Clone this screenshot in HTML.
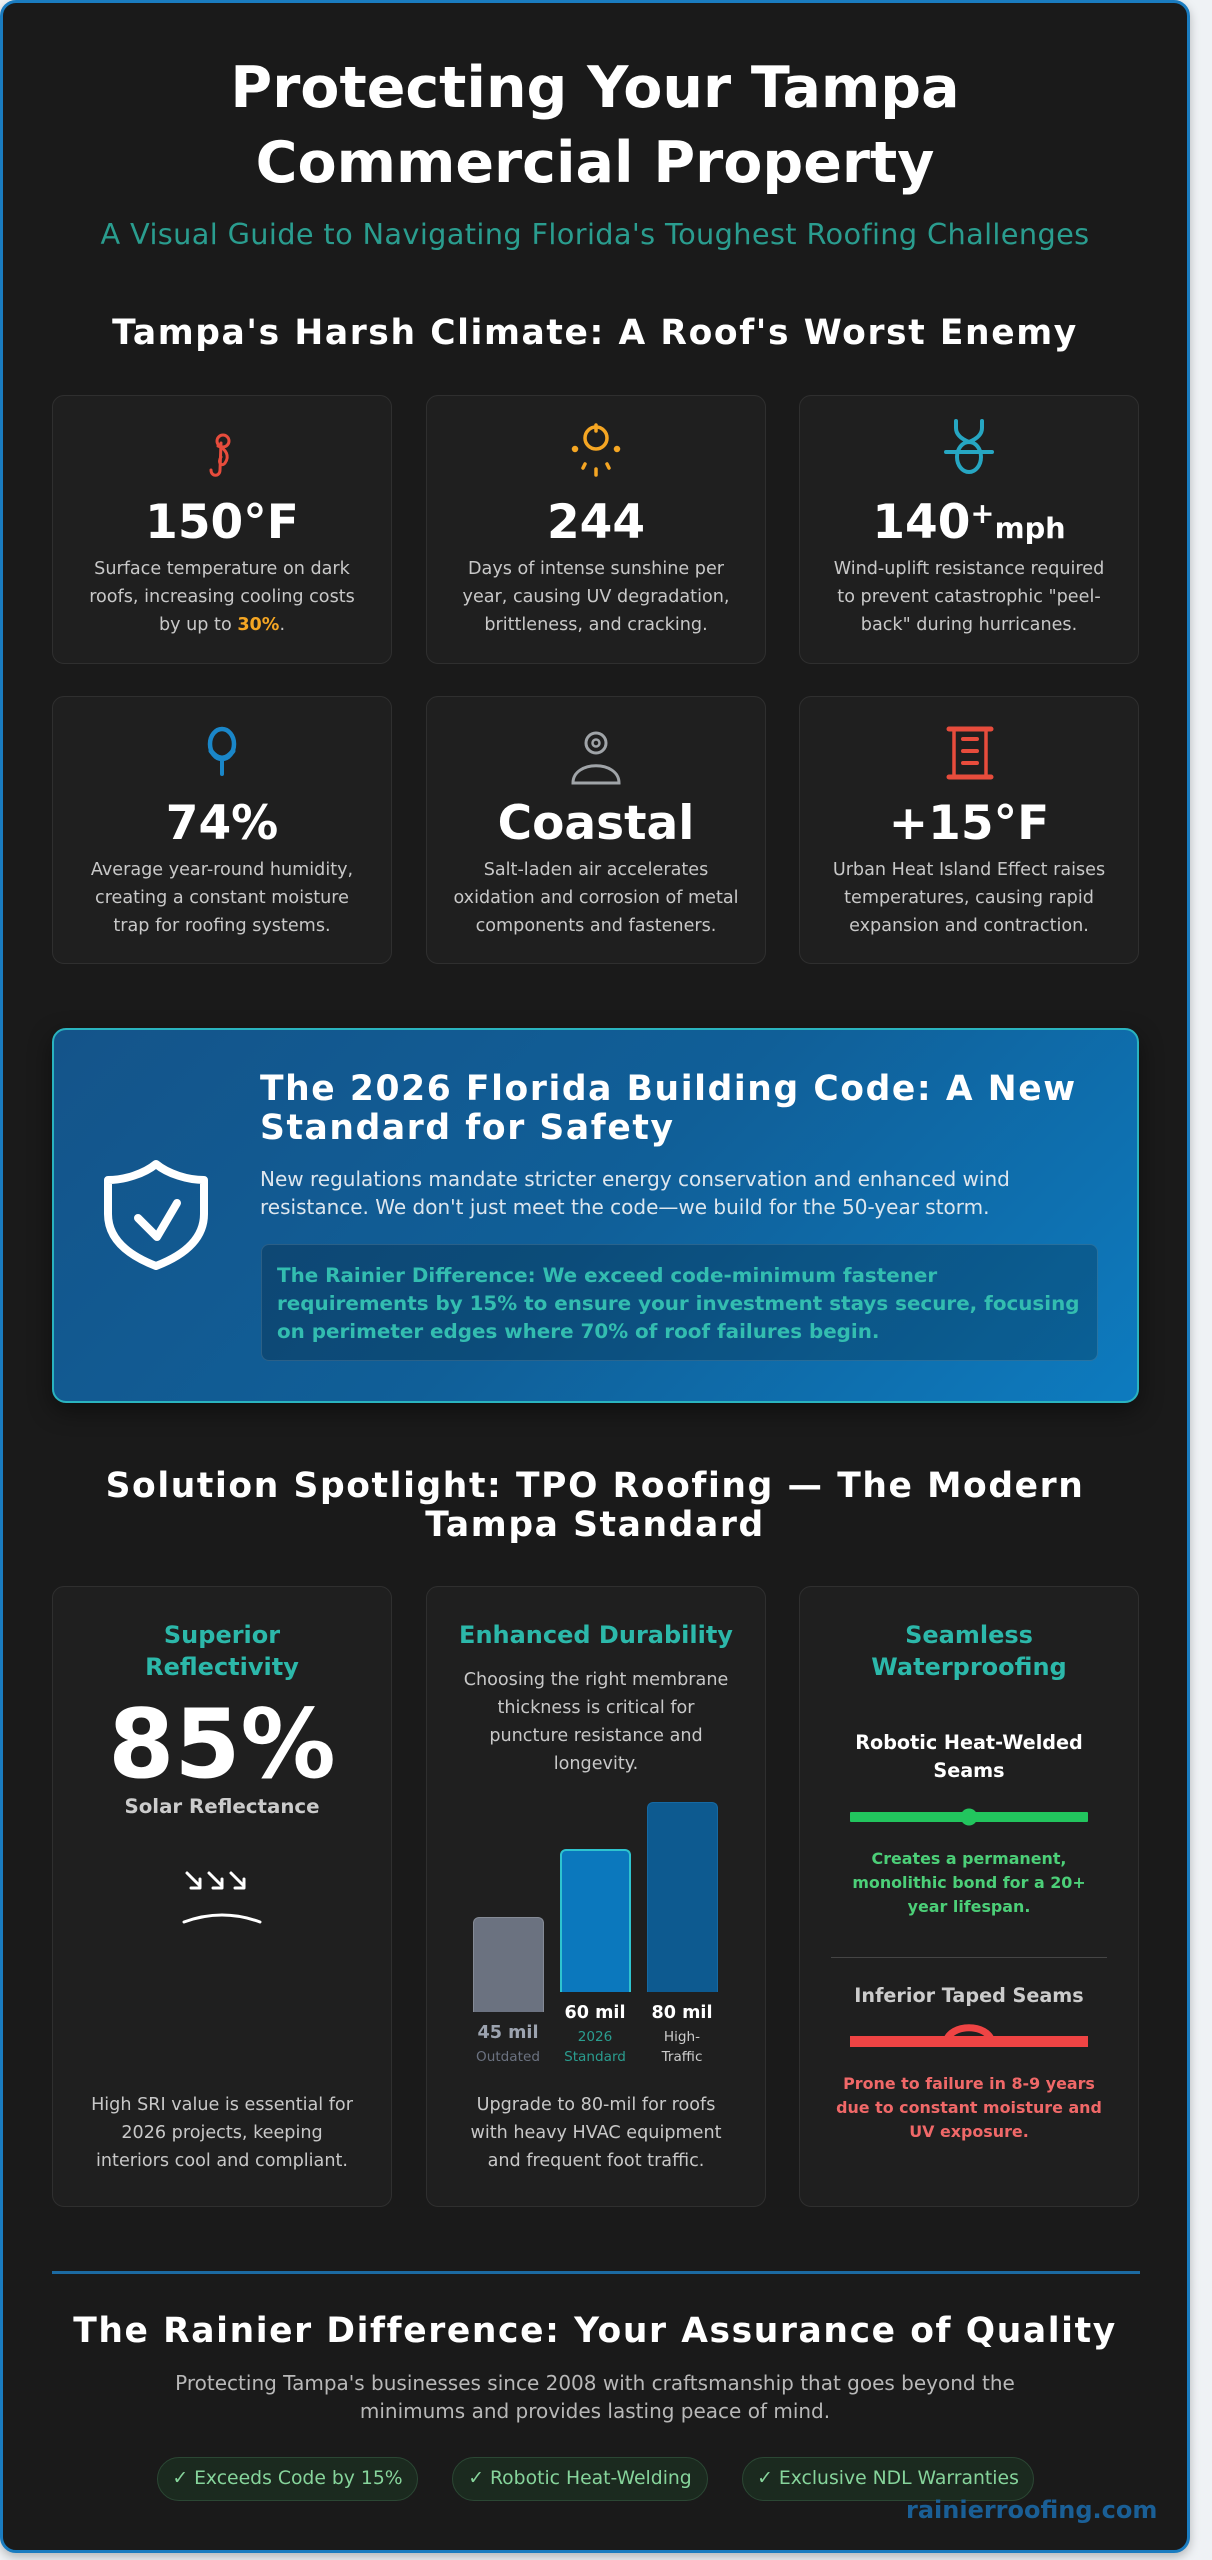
<!DOCTYPE html>
<html>
<head>
<meta charset="utf-8">
<style>
  html,body{margin:0;padding:0;}
  body{width:1212px;height:2560px;background:#eff2f5;position:relative;overflow:hidden;font-family:"DejaVu Sans","Liberation Sans",sans-serif;}
  .abs{position:absolute;}
  .container{position:absolute;left:0;top:0;width:1190px;height:2553px;box-sizing:border-box;background:#1a1a1a;border:3px solid #1a7cc0;border-radius:16px;box-shadow:0 4px 10px rgba(0,0,0,0.25);}
  .ctr{position:absolute;left:0;width:1190px;text-align:center;white-space:nowrap;}
  .h2{font-weight:700;font-size:34.5px;line-height:40px;letter-spacing:1.6px;color:#fff;}
  .card{position:absolute;width:340px;box-sizing:border-box;background:#1f1f1f;border:1px solid #2f2f2f;border-radius:12px;}
  .num{position:absolute;left:0;width:338px;text-align:center;font-weight:700;font-size:47px;line-height:56px;color:#fff;white-space:nowrap;}
  .desc{position:absolute;left:0;width:338px;text-align:center;font-size:17.6px;line-height:28px;color:#c8c8c8;white-space:nowrap;}
  .ft{position:absolute;width:340px;text-align:center;white-space:nowrap;}
  .teal{font-weight:700;font-size:24px;line-height:32px;color:#2cb8aa;}
  .body{font-size:17.6px;line-height:28px;color:#c8c8c8;}
  .bar{position:absolute;width:71px;box-sizing:border-box;border-radius:6px 6px 0 0;}
  .bl{position:absolute;width:90px;text-align:center;white-space:nowrap;}
  .badge{position:absolute;top:2457px;height:44px;box-sizing:border-box;background:#1b2a1f;border:1px solid #2b4734;border-radius:22px;color:#86d49b;font-size:18.8px;line-height:42px;text-align:center;white-space:nowrap;}
</style>
</head>
<body>
<div class="container"></div>

<!-- Header -->
<div class="ctr" style="top:51px;font-weight:700;font-size:57px;line-height:75px;color:#fff;">Protecting Your Tampa<br>Commercial Property</div>
<div class="ctr" style="top:214px;font-size:28.8px;line-height:40px;letter-spacing:0.35px;color:#2a9d8f;">A Visual Guide to Navigating Florida's Toughest Roofing Challenges</div>

<div class="ctr h2" style="top:313px;">Tampa's Harsh Climate: A Roof's Worst Enemy</div>

<!-- Row 1 stat cards -->
<div class="card" style="left:52px;top:395px;height:269px;">
  <svg class="abs" style="left:150px;top:35px" width="36" height="48" viewBox="0 0 36 48" fill="none" stroke="#e74c3c" stroke-width="3" stroke-linecap="round">
    <circle cx="20" cy="10" r="6"/>
    <path d="M15 15 C23 18 27 25 22 32 C19 36 14 32 18 26"/>
    <path d="M18 12 L17 39 C17 46 8 46 8 39"/>
  </svg>
  <div class="num" style="top:99px;">150°F</div>
  <div class="desc" style="top:159px;">Surface temperature on dark<br>roofs, increasing cooling costs<br>by up to <b style="color:#f5a623">30%</b>.</div>
</div>
<div class="card" style="left:426px;top:395px;height:269px;">
  <svg class="abs" style="left:141px;top:25px" width="56" height="58" viewBox="0 0 56 58" fill="none" stroke="#f5a623" stroke-width="3.5" stroke-linecap="round">
    <circle cx="28" cy="17" r="11"/>
    <path d="M28 4 L28 10"/>
    <circle cx="7" cy="28" r="1.5" fill="#f5a623"/>
    <circle cx="49" cy="28" r="1.5" fill="#f5a623"/>
    <path d="M17 43 L15 47"/><path d="M28 48 L28 54"/><path d="M39 43 L41 47"/>
  </svg>
  <div class="num" style="top:99px;">244</div>
  <div class="desc" style="top:159px;">Days of intense sunshine per<br>year, causing UV degradation,<br>brittleness, and cracking.</div>
</div>
<div class="card" style="left:799px;top:395px;height:269px;">
  <svg class="abs" style="left:142px;top:22px" width="54" height="60" viewBox="0 0 54 60" fill="none" stroke="#26a6c2" stroke-width="4" stroke-linecap="round">
    <path d="M14 3 L14 10 C14 18 22 22 27 24"/>
    <path d="M40 3 L40 10 C40 18 32 22 27 24"/>
    <ellipse cx="27" cy="39" rx="12" ry="15"/>
    <path d="M4 34 L50 34"/>
  </svg>
  <div class="num" style="top:99px;">140<span style="font-size:28.8px;"><span style="position:relative;top:-15px;">+</span>mph</span></div>
  <div class="desc" style="top:159px;">Wind-uplift resistance required<br>to prevent catastrophic "peel-<br>back" during hurricanes.</div>
</div>

<!-- Row 2 stat cards -->
<div class="card" style="left:52px;top:696px;height:268px;">
  <svg class="abs" style="left:149px;top:28px" width="40" height="54" viewBox="0 0 40 54" fill="none" stroke="#1a86c8" stroke-width="4.5" stroke-linecap="round">
    <ellipse cx="20" cy="19" rx="12" ry="15"/>
    <path d="M9 26 Q20 40 31 26" stroke-width="5"/>
    <path d="M20 34 L20 49" stroke-width="4"/>
  </svg>
  <div class="num" style="top:99px;">74%</div>
  <div class="desc" style="top:159px;">Average year-round humidity,<br>creating a constant moisture<br>trap for roofing systems.</div>
</div>
<div class="card" style="left:426px;top:696px;height:268px;">
  <svg class="abs" style="left:141px;top:33px" width="56" height="56" viewBox="0 0 56 56" fill="none" stroke="#a0a4a8" stroke-width="3" stroke-linecap="round">
    <circle cx="28" cy="13" r="10"/>
    <circle cx="28" cy="13" r="3.5" stroke-width="2.5"/>
    <path d="M5 53 C5 30 51 30 51 53 Z"/>
  </svg>
  <div class="num" style="top:99px;">Coastal</div>
  <div class="desc" style="top:159px;">Salt-laden air accelerates<br>oxidation and corrosion of metal<br>components and fasteners.</div>
</div>
<div class="card" style="left:799px;top:696px;height:268px;">
  <svg class="abs" style="left:145px;top:28px" width="50" height="56" viewBox="0 0 50 56" fill="none" stroke="#e74c3c" stroke-linecap="round">
    <path d="M4 4 L46 4" stroke-width="5"/>
    <path d="M4 52 L46 52" stroke-width="5"/>
    <path d="M9 4 L9 52 M41 4 L41 52" stroke-width="3.5"/>
    <path d="M18 14 L32 14 M18 26 L32 26 M18 38 L32 38" stroke-width="4"/>
  </svg>
  <div class="num" style="top:99px;">+15°F</div>
  <div class="desc" style="top:159px;">Urban Heat Island Effect raises<br>temperatures, causing rapid<br>expansion and contraction.</div>
</div>

<!-- Code banner -->
<div class="abs" style="left:52px;top:1028px;width:1087px;height:375px;box-sizing:border-box;border:2px solid #2ab3bf;border-radius:14px;background:linear-gradient(135deg,#14548a 0%,#105f98 50%,#0d7bbf 100%);box-shadow:0 8px 24px rgba(0,0,0,0.45);"></div>
<svg class="abs" style="left:100px;top:1158px" width="114" height="114" viewBox="0 0 114 114" fill="none" stroke="#fff" stroke-width="8" stroke-linecap="round" stroke-linejoin="round">
  <path d="M56 6 C44 16 24 22 8 22 L8 56 C8 82 30 98 56 108 C82 98 104 82 104 56 L104 22 C88 22 68 16 56 6 Z"/>
  <path d="M38 60 L57 79 L77 45"/>
</svg>
<div class="abs" style="left:260px;top:1070px;font-weight:700;font-size:34.5px;line-height:39px;letter-spacing:1.6px;color:#fff;white-space:nowrap;">The 2026 Florida Building Code: A New<br>Standard for Safety</div>
<div class="abs" style="left:260px;top:1166px;font-size:20px;line-height:27.5px;color:#dde6ee;white-space:nowrap;">New regulations mandate stricter energy conservation and enhanced wind<br>resistance. We don't just meet the code—we build for the 50-year storm.</div>
<div class="abs" style="left:261px;top:1244px;width:837px;height:117px;box-sizing:border-box;background:rgba(0,0,0,0.2);border:1px solid rgba(255,255,255,0.12);border-radius:8px;"></div>
<div class="abs" style="left:277px;top:1262px;font-weight:700;font-size:19.9px;line-height:28px;color:#33bdb0;white-space:nowrap;">The Rainier Difference: We exceed code-minimum fastener<br>requirements by 15% to ensure your investment stays secure, focusing<br>on perimeter edges where 70% of roof failures begin.</div>

<!-- Solution spotlight -->
<div class="ctr h2" style="top:1467px;line-height:39px;">Solution Spotlight: TPO Roofing — The Modern<br>Tampa Standard</div>

<div class="card" style="left:52px;top:1586px;height:621px;"></div>
<div class="card" style="left:426px;top:1586px;height:621px;"></div>
<div class="card" style="left:799px;top:1586px;height:621px;"></div>

<!-- Card 1 -->
<div class="ft teal" style="left:52px;top:1619px;">Superior<br>Reflectivity</div>
<div class="ft" style="left:52px;top:1695px;font-weight:700;font-size:95px;line-height:100px;color:#fff;">85%</div>
<div class="ft" style="left:52px;top:1795px;font-weight:700;font-size:19.8px;line-height:24px;color:#cccccc;">Solar Reflectance</div>
<svg class="abs" style="left:180px;top:1868px" width="74" height="30" viewBox="0 0 74 30" fill="none" stroke="#fff" stroke-width="3" stroke-linecap="round" stroke-linejoin="round">
  <path d="M7 5 L20 18 M11 20 L20 20 L20 11"/>
  <path d="M29 5 L42 18 M33 20 L42 20 L42 11"/>
  <path d="M51 5 L64 18 M55 20 L64 20 L64 11"/>
</svg>
<svg class="abs" style="left:180px;top:1908px" width="84" height="18" viewBox="0 0 84 18" fill="none" stroke="#fff" stroke-width="3" stroke-linecap="round">
  <path d="M4 14 Q42 0 80 14"/>
</svg>
<div class="ft body" style="left:52px;top:2091px;">High SRI value is essential for<br>2026 projects, keeping<br>interiors cool and compliant.</div>

<!-- Card 2 -->
<div class="ft teal" style="left:426px;top:1619px;">Enhanced Durability</div>
<div class="ft body" style="left:426px;top:1666px;">Choosing the right membrane<br>thickness is critical for<br>puncture resistance and<br>longevity.</div>
<div class="bar" style="left:473px;top:1917px;height:95px;background:#6b7280;border:1px solid #858b96;border-bottom:none;"></div>
<div class="bar" style="left:560px;top:1849px;height:143px;background:#0b78bd;border:2px solid #2ec4cf;border-bottom:none;"></div>
<div class="bar" style="left:647px;top:1802px;height:190px;background:#0d5a90;border:1px solid #1569a3;border-bottom:none;"></div>
<div class="bl" style="left:463px;top:2020px;font-weight:700;font-size:17.6px;line-height:26px;color:#9ca3af;">45 mil</div>
<div class="bl" style="left:463px;top:2047px;font-size:13.6px;line-height:20px;color:#6b7280;">Outdated</div>
<div class="bl" style="left:550px;top:2000px;font-weight:700;font-size:17.6px;line-height:26px;color:#fff;">60 mil</div>
<div class="bl" style="left:550px;top:2028px;font-size:13.6px;line-height:19.5px;color:#2a9d8f;">2026<br>Standard</div>
<div class="bl" style="left:637px;top:2000px;font-weight:700;font-size:17.6px;line-height:26px;color:#fff;">80 mil</div>
<div class="bl" style="left:637px;top:2028px;font-size:13.6px;line-height:19.5px;color:#cccccc;">High-<br>Traffic</div>
<div class="ft body" style="left:426px;top:2091px;">Upgrade to 80-mil for roofs<br>with heavy HVAC equipment<br>and frequent foot traffic.</div>

<!-- Card 3 -->
<div class="ft teal" style="left:799px;top:1619px;">Seamless<br>Waterproofing</div>
<div class="ft" style="left:799px;top:1729px;font-weight:700;font-size:19.2px;line-height:28px;color:#fff;">Robotic Heat-Welded<br>Seams</div>
<svg class="abs" style="left:846px;top:1806px" width="246" height="22" viewBox="0 0 246 22">
  <rect x="4" y="6" width="238" height="10" rx="1" fill="#22c55e"/>
  <circle cx="123" cy="11" r="8.5" fill="#22c55e"/>
</svg>
<div class="ft" style="left:799px;top:1847px;font-weight:700;font-size:15.9px;line-height:24px;color:#4ccf78;">Creates a permanent,<br>monolithic bond for a 20+<br>year lifespan.</div>
<div class="abs" style="left:831px;top:1957px;width:276px;height:1px;background:#454545;"></div>
<div class="ft" style="left:799px;top:1984px;font-weight:700;font-size:19.2px;line-height:24px;color:#cccccc;">Inferior Taped Seams</div>
<svg class="abs" style="left:846px;top:2018px" width="246" height="34" viewBox="0 0 246 34">
  <rect x="4" y="18" width="238" height="11" fill="#ef4444"/>
  <path d="M100 24 C104 5 142 5 146 24" fill="none" stroke="#ef4444" stroke-width="7"/>
</svg>
<div class="ft" style="left:799px;top:2072px;font-weight:700;font-size:15.9px;line-height:24px;color:#f06868;">Prone to failure in 8-9 years<br>due to constant moisture and<br>UV exposure.</div>

<!-- Footer -->
<div class="abs" style="left:52px;top:2271px;width:1088px;height:3px;background:#1c6aa2;"></div>
<div class="ctr h2" style="top:2311px;">The Rainier Difference: Your Assurance of Quality</div>
<div class="ctr" style="top:2369px;font-size:20px;line-height:28px;color:#b8b8b8;">Protecting Tampa's businesses since 2008 with craftsmanship that goes beyond the<br>minimums and provides lasting peace of mind.</div>
<div class="badge" style="left:157px;width:261px;">✓ Exceeds Code by 15%</div>
<div class="badge" style="left:452px;width:256px;">✓ Robotic Heat-Welding</div>
<div class="badge" style="left:742px;width:292px;">✓ Exclusive NDL Warranties</div>
<div class="abs" style="left:906px;top:2496px;font-weight:700;font-size:24px;line-height:28px;color:#1a5f96;white-space:nowrap;">rainierroofing.com</div>
</body>
</html>
